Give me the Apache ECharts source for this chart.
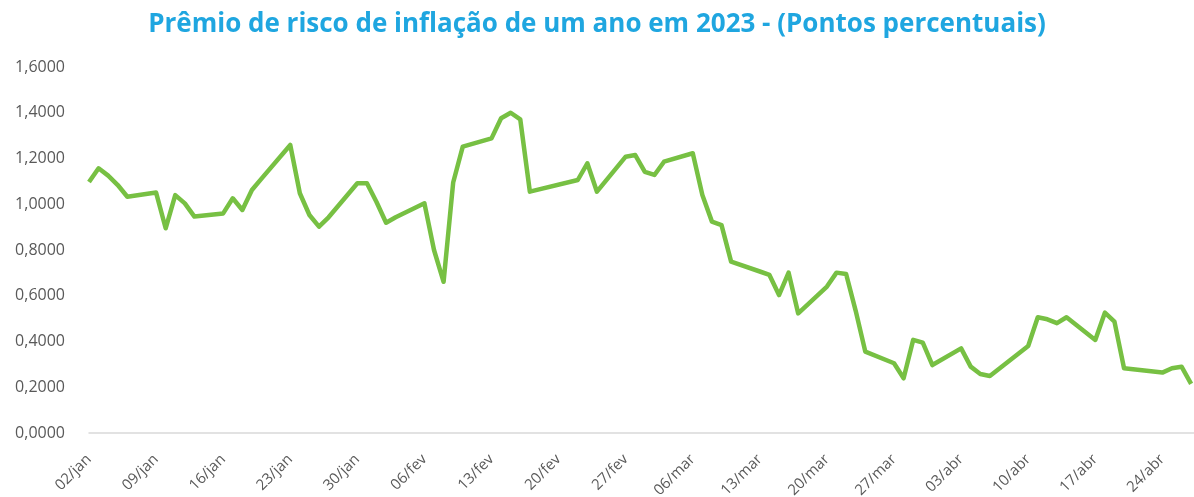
<!DOCTYPE html>
<html>
<head>
<meta charset="utf-8">
<script src="https://cdn.jsdelivr.net/npm/echarts@6/dist/echarts.min.js"></script>
<style>
  html, body { margin: 0; padding: 0; background: #fff; }
  #chart { width: 1194px; height: 497px; }
</style>
</head>
<body>
<div id="chart"></div>
<script>
// pregões de 2023 (dd/mm) e prêmio de risco (p.p.)
const dates = [
  '02/01', '03/01', '04/01', '05/01', '06/01', '09/01', '10/01', '11/01', '12/01', '13/01',
  '16/01', '17/01', '18/01', '19/01', '20/01', '23/01', '24/01', '25/01', '26/01', '27/01',
  '30/01', '31/01', '01/02', '02/02', '03/02', '06/02', '07/02', '08/02', '09/02', '10/02',
  '13/02', '14/02', '15/02', '16/02', '17/02', '22/02', '23/02', '24/02', '27/02', '28/02',
  '01/03', '02/03', '03/03', '06/03', '07/03', '08/03', '09/03', '10/03', '13/03', '14/03',
  '15/03', '16/03', '17/03', '20/03', '21/03', '22/03', '23/03', '24/03', '27/03', '28/03',
  '29/03', '30/03', '31/03', '03/04', '04/04', '05/04', '06/04', '10/04', '11/04', '12/04',
  '13/04', '14/04', '17/04', '18/04', '19/04', '20/04', '24/04', '25/04', '26/04', '27/04'
]
const premio = [
  1.097, 1.157, 1.125, 1.084, 1.033, 1.051, 0.895, 1.040, 1.004, 0.946,
  0.960, 1.026, 0.975, 1.062, 1.112, 1.259, 1.048, 0.953, 0.902, 0.943,
  1.092, 1.092, 1.010, 0.919, 0.943, 1.004, 0.800, 0.661, 1.095, 1.252,
  1.288, 1.376, 1.400, 1.371, 1.055, 1.106, 1.179, 1.055, 1.208, 1.215,
  1.142, 1.128, 1.186, 1.223, 1.040, 0.924, 0.909, 0.749, 0.706, 0.691,
  0.603, 0.701, 0.523, 0.640, 0.701, 0.695, 0.534, 0.356, 0.305, 0.239,
  0.407, 0.395, 0.297, 0.370, 0.290, 0.258, 0.249, 0.380, 0.506, 0.497,
  0.480, 0.506, 0.407, 0.526, 0.487, 0.283, 0.264, 0.283, 0.290, 0.215
]
const meses = ['jan', 'fev', 'mar', 'abr', 'mai', 'jun', 'jul', 'ago', 'set', 'out', 'nov', 'dez']

const DAY = 86400000
const start = Date.UTC(2023, 0, 2)

// dias corridos desde 02/jan (eixo de datas como no Excel)
function toDay(s) {
  const [d, m] = s.split('/').map(Number)
  return Math.round((Date.UTC(2023, m - 1, d) - start) / DAY)
}

function dayLabel(n) {
  const dt = new Date(start + n * DAY)
  const dd = String(dt.getUTCDate()).padStart(2, '0')
  return dd + '/' + meses[dt.getUTCMonth()]
}

const seriesData = dates.map((s, i) => [toDay(s), premio[i]])

const chart = echarts.init(document.getElementById('chart'))
chart.setOption({
  animation: false,
  title: {
    text: 'Prêmio de risco de inflação de um ano em 2023 - (Pontos percentuais)',
    left: 'center',
    top: 7,
    textStyle: {
      color: '#1fa6e0',
      fontSize: 26,
      fontWeight: 'bold',
      fontFamily: 'Open Sans',
    },
  },
  grid: {
    left: 89, right: 0, top: 67, bottom: 64,
    containLabel: false,
    outerBoundsMode: 'none',
  },
  xAxis: {
    type: 'value',
    min: 0,
    max: 115.3,
    interval: 7,
    axisLine: { show: true, lineStyle: { color: '#d9d9d9', width: 1.5 } },
    axisTick: { show: false },
    splitLine: { show: false },
    axisLabel: {
      rotate: 45,
      margin: 24,
      color: '#595959',
      fontSize: 15,
      fontFamily: 'Open Sans',
      showMaxLabel: false,
      formatter: v => dayLabel(v),
    },
  },
  yAxis: {
    type: 'value',
    min: 0,
    max: 1.6,
    interval: 0.2,
    axisLine: { show: false },
    axisTick: { show: false },
    splitLine: { show: false },
    axisLabel: {
      margin: 24,
      color: '#595959',
      fontSize: 16,
      fontFamily: 'Open Sans',
      formatter: v => v.toFixed(4).replace('.', ','),
    },
  },
  series: [
    {
      name: 'Prêmio de risco',
      type: 'line',
      data: seriesData,
      showSymbol: false,
      lineStyle: { color: '#77c043', width: 4.5, join: 'round' },
      itemStyle: { color: '#77c043' },
    },
  ],
})
</script>
</body>
</html>
